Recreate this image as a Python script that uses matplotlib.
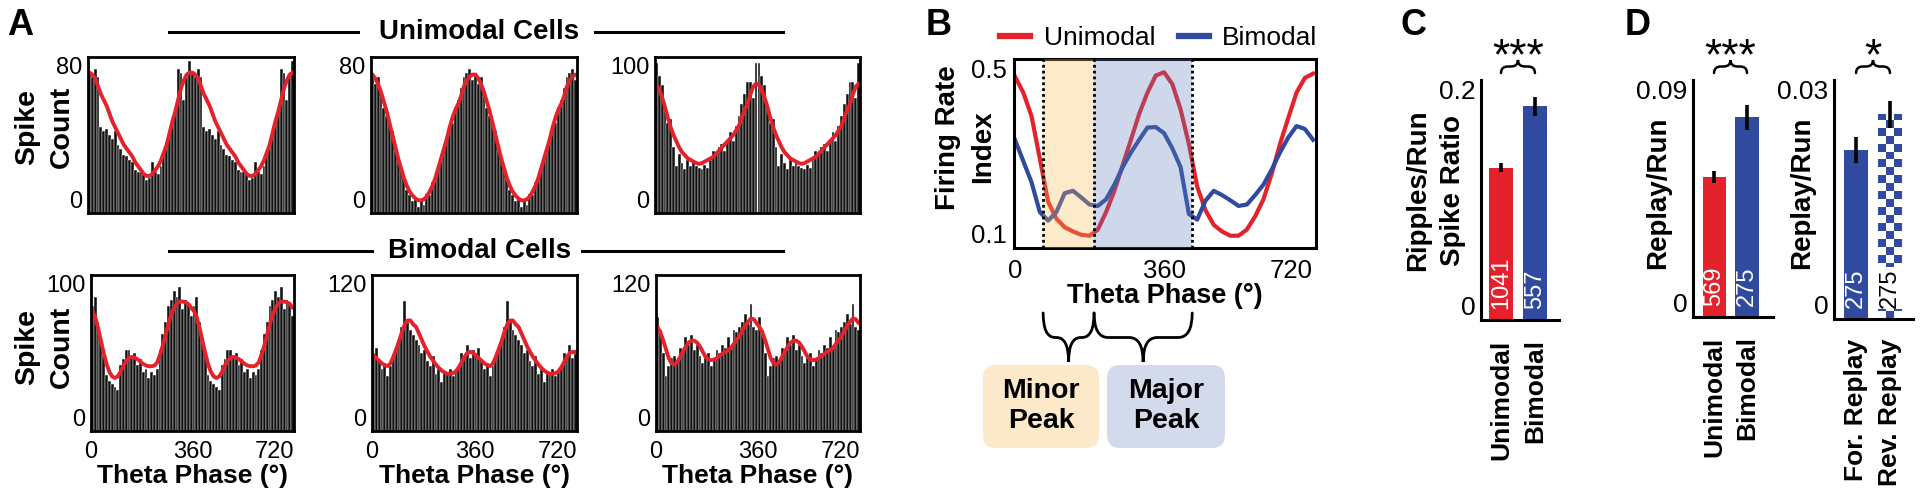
import numpy as np
import matplotlib
matplotlib.use("Agg")
import matplotlib.pyplot as plt
from matplotlib.colors import ListedColormap
from matplotlib.lines import Line2D
from matplotlib.patches import FancyBboxPatch, PathPatch
from matplotlib.path import Path
from matplotlib.transforms import IdentityTransform

plt.rcParams["font.family"] = ["Liberation Sans", "DejaVu Sans"]

W, H = 1920, 495
RED = "#e3222b"
BLUE = "#2f4a9e"
ORANGE_SHADE = "#f8bc52"
BLUE_SHADE = "#6280bc"
BAR_BLACK = "#111111"

# ---- panel A: spike counts per 10-degree theta bin (one cycle, drawn twice)
theta_edges = np.arange(0, 720, 10)
uni1_counts = [72, 70, 74, 70, 44, 42, 43, 40, 38, 42, 35, 33, 30, 29, 27, 26, 22, 21,
               21, 20, 17, 18, 26, 21, 20, 24, 30, 34, 40, 46, 54, 74, 72, 58, 70, 78]
uni1_fit = [72, 71, 69, 65, 61, 58, 55, 51, 47, 44, 41, 38, 35, 33, 31, 29, 26, 24,
            22, 20, 19, 19, 20, 22, 24, 27, 31, 35, 41, 47, 52, 58, 64, 68, 71, 72]
uni2_counts = [72, 66, 70, 60, 54, 50, 47, 42, 32, 27, 22, 18, 12, 9, 6, 8, 3, 7,
               4, 10, 9, 16, 18, 24, 30, 34, 38, 44, 46, 53, 58, 64, 70, 72, 74, 68]
uni2_fit = [71, 69, 66, 62, 57, 52, 46, 40, 34, 28, 23, 18, 14, 11, 9, 7.5, 6.5, 6.5,
            7, 8.5, 11, 14, 18, 23, 28, 33, 38, 44, 49, 53, 56, 60, 65, 68, 70, 71]
uni3_counts = [96, 88, 82, 68, 58, 60, 42, 30, 38, 32, 28, 34, 30, 33, 30, 29, 28, 31,
               29, 34, 40, 38, 42, 44, 40, 46, 52, 46, 56, 62, 70, 76, 84, 84, 74, 96]
uni3_fit = [82, 79, 74, 68, 61, 55, 50, 46, 42, 39, 37, 35, 34, 33, 32, 31.5, 32, 33,
            34, 35, 36, 38, 40, 42, 44, 46, 48, 50, 53, 56, 61, 66, 70, 76, 81, 83]
bim1_counts = [80, 86, 70, 60, 48, 36, 32, 30, 28, 26, 42, 46, 52, 52, 48, 50, 42, 46,
               38, 40, 34, 38, 36, 40, 52, 62, 70, 80, 84, 90, 86, 92, 78, 84, 82, 74]
bim1_fit = [77, 73, 66, 58, 50, 43, 38, 35, 34, 35, 38, 42, 45, 47, 47.5, 47, 46, 44.5,
            43, 42, 41.5, 41.5, 42, 44, 49, 55, 62, 69, 75, 79, 82, 83, 83, 82.5, 81.5, 79]
bim2_counts = [60, 64, 54, 48, 52, 42, 50, 56, 62, 70, 80, 100, 84, 78, 74, 70, 66, 60,
               62, 54, 50, 58, 44, 48, 38, 46, 44, 48, 42, 46, 50, 60, 58, 66, 56, 62]
bim2_fit = [58, 56, 54, 52, 50.5, 50, 52, 57, 63, 69, 76, 82, 85, 85, 82, 80, 75, 70,
            65, 61, 57, 54, 51, 48.5, 46.5, 45, 44, 44, 44.5, 46, 49, 53, 57, 60, 61, 60]
bim3_counts = [88, 78, 60, 42, 50, 56, 58, 54, 64, 62, 72, 66, 74, 62, 66, 58, 52, 56,
               60, 50, 56, 62, 60, 66, 64, 72, 64, 78, 76, 80, 84, 90, 82, 98, 80, 78]
bim3_fit = [80, 76, 70, 63, 56, 52, 51, 53, 57, 61, 65, 68, 69.5, 69.5, 68, 65, 61, 57,
            55, 54.5, 55, 56, 58, 59.5, 61, 62, 64, 67, 70, 73, 77, 81, 84, 86.5, 86, 83]
a_ymax = [80, 80, 100, 100, 120, 120]

# ---- panel B: mean firing rate index vs theta phase
b_phase = np.arange(0, 721, 20)
b_unimodal = [0.463, 0.429, 0.379, 0.289, 0.198, 0.162, 0.144, 0.135, 0.128, 0.126,
              0.139, 0.176, 0.221, 0.275, 0.329, 0.384, 0.429, 0.465, 0.472, 0.447,
              0.393, 0.320, 0.230, 0.180, 0.149, 0.135, 0.126, 0.126, 0.139, 0.167,
              0.203, 0.257, 0.320, 0.375, 0.429, 0.460, 0.469]
b_bimodal = [0.329, 0.284, 0.239, 0.176, 0.158, 0.176, 0.216, 0.221, 0.207, 0.192,
             0.189, 0.203, 0.234, 0.271, 0.302, 0.329, 0.355, 0.356, 0.343, 0.311,
             0.271, 0.172, 0.160, 0.200, 0.221, 0.212, 0.201, 0.189, 0.192, 0.212,
             0.234, 0.266, 0.302, 0.334, 0.358, 0.352, 0.329]
b_minor = (68, 191)
b_major = (191, 428)

# ---- panel C
c_groups = ["Unimodal", "Bimodal"]
c_values = [0.127, 0.178]
c_errors = [0.004, 0.008]
c_counts = ["1041", "557"]

# ---- panel D
d1_groups = ["Unimodal", "Bimodal"]
d1_values = [0.0532, 0.0759]
d1_errors = [0.0023, 0.0047]
d1_counts = ["569", "275"]
d2_groups = ["For. Replay", "Rev. Replay"]
d2_values = [0.0212, 0.0257]
d2_errors = [0.0016, 0.0017]
d2_counts = ["275", "275"]


def fig_rect(left, top, right, bottom):
    return [left / W, 1 - bottom / H, (right - left) / W, (bottom - top) / H]


def fx(x):
    return x / W


def fy(y):
    return 1 - y / H


def data_px(ax, x):
    return ax.transData.transform((x, 0))[0]


def inward_ylabels(ax):
    ticks = ax.yaxis.get_major_ticks()
    ticks[0].label1.set_va("bottom")
    ticks[-1].label1.set_va("top")


def add_brace(fig, x1, x2, y_end, y_tip, q, lw=2.0):
    xm = (x1 + x2) / 2
    ym = (y_end + y_tip) / 2
    pts = [(x1, y_end), (x1, ym), (x1 + q, ym), (xm - q, ym), (xm, ym), (xm, y_tip),
           (xm, ym), (xm + q, ym), (x2 - q, ym), (x2, ym), (x2, y_end)]
    codes = [Path.MOVETO, Path.CURVE3, Path.CURVE3, Path.LINETO, Path.CURVE3, Path.CURVE3,
             Path.CURVE3, Path.CURVE3, Path.LINETO, Path.CURVE3, Path.CURVE3]
    verts = [(x, H - y) for x, y in pts]
    fig.add_artist(PathPatch(Path(verts, codes), fill=False, lw=lw, edgecolor="black",
                             transform=IdentityTransform(), capstyle="round"))


def vlabel(fig, x, y, text, size=20):
    fig.text(fx(x), fy(y), text, rotation=90, ha="center", va="center",
             fontsize=size, fontweight="bold")


def header(fig, text, y, x_text, gap_left, gap_right, x0=169, x1=783):
    fig.add_artist(Line2D([fx(x0), fx(gap_left)], [fy(y), fy(y)], color="black", lw=2.2))
    fig.add_artist(Line2D([fx(gap_right), fx(x1)], [fy(y), fy(y)], color="black", lw=2.2))
    fig.text(fx(x_text), fy(y), text, ha="center", va="center", fontsize=20, fontweight="bold")


def hist_panel(fig, rect, counts, fit, ymax, bottom_row):
    ax = fig.add_axes(fig_rect(*rect))
    ax.bar(theta_edges, np.tile(counts, 2), width=10, align="edge", color=BAR_BLACK,
           edgecolor="white", linewidth=0.3)
    ax.plot(theta_edges + 5, np.tile(fit, 2), color=RED, lw=2.8, solid_capstyle="round")
    ax.set_xlim(0, 720)
    ax.set_ylim(0, ymax)
    ax.set_yticks([0, ymax], ["0", str(ymax)])
    ax.tick_params(length=0, labelsize=17, pad=4)
    inward_ylabels(ax)
    if bottom_row:
        ax.set_xticks([0, 360, 720], ["0", "360", "720"])
        ax.tick_params(axis="x", pad=7)
        ax.xaxis.get_major_ticks()[-1].label1.set_ha("right")
        ax.set_xlabel("Theta Phase (°)", fontsize=19, fontweight="bold", labelpad=1)
    else:
        ax.set_xticks([])
    for sp in ax.spines.values():
        sp.set_linewidth(2)
    return ax


def bar_panel(fig, rect, xlim, ymax, ylabels, values, errors, groups, counts, colors):
    ax = fig.add_axes(fig_rect(*rect))
    bars = ax.bar([0, 1], values, width=0.7, color=colors, zorder=2)
    ax.errorbar([0, 1], values, yerr=errors, fmt="none", ecolor="black", elinewidth=2.6,
                capsize=0, zorder=4)
    ax.set_xlim(*xlim)
    ax.set_ylim(0, ymax)
    ax.set_yticks([0, ymax], ylabels)
    ax.set_xticks([0, 1], groups, rotation=90, fontweight="bold")
    ax.tick_params(length=0, labelsize=19)
    ax.tick_params(axis="y", pad=4)
    ax.tick_params(axis="x", pad=14)
    inward_ylabels(ax)
    for side in ("top", "right"):
        ax.spines[side].set_visible(False)
    for side in ("left", "bottom"):
        ax.spines[side].set_linewidth(2.2)
    for i, txt in enumerate(counts):
        ax.annotate(txt, (i, 0), xytext=(0, 8), textcoords="offset points", rotation=90,
                    ha="center", va="bottom", color="white", fontsize=17, zorder=5)
    return ax, bars


def significance(fig, ax, stars, y_text=58):
    x0, x1 = data_px(ax, 0), data_px(ax, 1)
    add_brace(fig, x0, x1, 73, 60, 7, lw=1.8)
    fig.text(fx((x0 + x1) / 2), fy(y_text), stars, ha="center", va="center", fontsize=32)


fig = plt.figure(figsize=(W / 100, H / 100), dpi=100)

# ---------------- panel A
header(fig, "Unimodal Cells", 32, 479, 358, 595)
header(fig, "Bimodal Cells", 251, 480, 372, 582)
row1 = [(88, 57, 294, 213), (371, 57, 577, 213), (655, 57, 860, 213)]
row2 = [(91, 275, 294, 431), (372, 275, 577, 431), (656, 275, 860, 431)]
for rect, cnt, fit, ym in zip(row1, [uni1_counts, uni2_counts, uni3_counts],
                              [uni1_fit, uni2_fit, uni3_fit], a_ymax[:3]):
    hist_panel(fig, rect, cnt, fit, ym, False)
for rect, cnt, fit, ym in zip(row2, [bim1_counts, bim2_counts, bim3_counts],
                              [bim1_fit, bim2_fit, bim3_fit], a_ymax[3:]):
    hist_panel(fig, rect, cnt, fit, ym, True)
for yc in (127, 347):
    vlabel(fig, 27, yc, "Spike", 20.5)
    vlabel(fig, 62, yc, "Count", 20.5)

# ---------------- panel B
ax_b = fig.add_axes(fig_rect(1014, 59, 1316, 248))
ax_b.plot(b_phase, b_unimodal, color=RED, lw=3, zorder=2)
ax_b.plot(b_phase, b_bimodal, color=BLUE, lw=3, zorder=2)
ax_b.axvspan(*b_minor, color=ORANGE_SHADE, alpha=0.3, lw=0, zorder=3)
ax_b.axvspan(*b_major, color=BLUE_SHADE, alpha=0.3, lw=0, zorder=3)
for xv in (b_minor[0], b_minor[1], b_major[1]):
    ax_b.axvline(xv, color="black", ls=(0, (1, 1.1)), lw=2, zorder=4)
ax_b.set_xlim(-2.4, 727)
ax_b.set_ylim(0.1, 0.5)
ax_b.set_yticks([0.1, 0.5], ["0.1", "0.5"])
ax_b.set_xticks([0, 360, 720], ["0", "360", "720"])
ax_b.tick_params(length=0, labelsize=18.5, pad=5)
ax_b.tick_params(axis="x", pad=8)
ax_b.xaxis.get_major_ticks()[-1].label1.set_ha("right")
inward_ylabels(ax_b)
ax_b.set_xlabel("Theta Phase (°)", fontsize=19.5, fontweight="bold", labelpad=0)
for sp in ax_b.spines.values():
    sp.set_linewidth(2.2)
ax_b.legend([Line2D([], [], color=RED, lw=4.5), Line2D([], [], color=BLUE, lw=4.5)],
            ["Unimodal", "Bimodal"], loc="center left",
            bbox_to_anchor=(fx(1000), fy(38)), bbox_transform=fig.transFigure, ncol=2,
            frameon=False, handlelength=1.15, handletextpad=0.5, columnspacing=0.9,
            fontsize=19, borderpad=0, borderaxespad=0)
vlabel(fig, 948, 138, "Firing Rate")
vlabel(fig, 983, 147, "Index")

bx = [data_px(ax_b, v) for v in (b_minor[0], b_minor[1], b_major[1])]
add_brace(fig, bx[0], bx[1], 313, 362, 12)
add_brace(fig, bx[1], bx[2], 313, 362, 14)
for (l, r), color, text in [((983, 1099), "#fce9c9", "Minor\nPeak"),
                            ((1107, 1225), "#d3daec", "Major\nPeak")]:
    fig.add_artist(FancyBboxPatch((l, H - 448), r - l, 83,
                                  boxstyle="round,pad=0,rounding_size=13",
                                  facecolor=color, edgecolor="none",
                                  transform=IdentityTransform()))
    fig.text(fx((l + r) / 2), fy(406), text, ha="center", va="center", fontsize=20.5,
             fontweight="bold", linespacing=1.2)

# ---------------- panel C
ax_c, _ = bar_panel(fig, (1481, 80, 1559, 320), (-0.59, 1.71), 0.2, ["0", "0.2"],
                    c_values, c_errors, c_groups, c_counts, [RED, BLUE])
significance(fig, ax_c, "***")
vlabel(fig, 1418, 190, "Ripples/Run")
vlabel(fig, 1453, 190, "Spike Ratio")

# ---------------- panel D
ax_d1, _ = bar_panel(fig, (1693, 80, 1773, 317), (-0.64, 1.79), 0.09, ["0", "0.09"],
                     d1_values, d1_errors, d1_groups, d1_counts, [RED, BLUE])
significance(fig, ax_d1, "***")
vlabel(fig, 1658, 193, "Replay/Run")

ax_d2, d2_bars = bar_panel(fig, (1834, 80, 1913, 319), (-0.65, 1.68), 0.03, ["0", "0.03"],
                           d2_values, d2_errors, d2_groups, d2_counts, [BLUE, "white"])
rev = d2_bars[1]
check_h = 0.001
n_rows = int(np.ceil(d2_values[1] / check_h))
checker = np.add.outer(np.arange(n_rows), np.arange(3)) % 2
img = ax_d2.imshow(checker, extent=(rev.get_x(), rev.get_x() + rev.get_width(), 0,
                                    n_rows * check_h),
                   origin="lower", cmap=ListedColormap(["white", BLUE]), aspect="auto",
                   interpolation="nearest", zorder=2.5)
img.set_clip_path(rev)
ax_d2.set_xlim(-0.65, 1.68)
ax_d2.set_ylim(0, 0.03)
ax_d2.texts[-1].set_color("black")
ax_d2.texts[-1].set_bbox(dict(facecolor="white", edgecolor="none", pad=1))
significance(fig, ax_d2, "*")
vlabel(fig, 1802, 193, "Replay/Run")

# ---------------- panel letters
for letter, x in (("A", 7), ("B", 926), ("C", 1400), ("D", 1625)):
    fig.text(fx(x), fy(8), letter, ha="left", va="top", fontsize=26, fontweight="bold")

fig.savefig("out.png", dpi=100)
